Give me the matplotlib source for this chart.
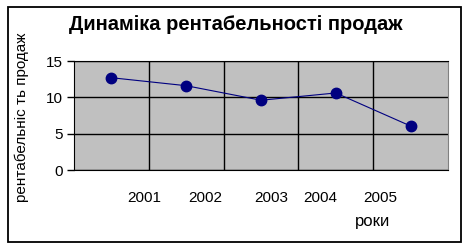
import matplotlib.pyplot as plt
from matplotlib.patches import Rectangle

years = ['2001', '2002', '2003', '2004', '2005']
values = [12.7, 11.6, 9.6, 10.6, 6.05]
# label offsets (data x) as they sit in the original picture
label_x = [0.44, 1.26, 2.14, 2.79, 3.6]

plt.rcParams['font.family'] = ['Liberation Sans', 'DejaVu Sans']

fig = plt.figure(figsize=(4.7, 2.49), dpi=100)
ax = fig.add_axes([74 / 470, 1 - 170 / 249, 374 / 470, 109 / 249])

# outer chart border
fig.patches.append(Rectangle((8 / 470, 1 - 242 / 249), 453 / 470, 235 / 249,
                             transform=fig.transFigure, fill=False,
                             edgecolor='black', linewidth=1.3))

ax.set_facecolor('#c0c0c0')
x = list(range(len(years)))
ax.plot(x, values, color='#000080', linewidth=0.8, marker='o',
        markersize=7.5, markerfacecolor='#000080', markeredgecolor='#000080')

ax.set_xlim(-0.5, len(years) - 0.5)
ax.set_ylim(0, 15)
ax.set_yticks([0, 5, 10, 15])
ax.tick_params(axis='y', length=5, width=1, labelsize=11, pad=3)
ax.set_xticks([i + 0.5 for i in x[:-1]], minor=True)
ax.set_xticks([])
ax.tick_params(axis='x', which='minor', length=0)
ax.grid(axis='y', which='major', color='black', linewidth=1)
ax.grid(axis='x', which='minor', color='black', linewidth=1)

for s in ['left', 'bottom', 'top']:
    ax.spines[s].set_color('black')
ax.spines['right'].set_color('#808080')

for lx, y in zip(label_x, years):
    ax.text(lx, -0.26, y, transform=ax.get_xaxis_transform(),
            ha='center', va='center', fontsize=11)

fig.text(236 / 470, 1 - 25 / 249, 'Динаміка рентабельності продаж',
         ha='center', va='center', fontsize=14.5, fontweight='bold')
fig.text(22 / 470, 1 - 117 / 249, 'рентабельніс ть продаж', rotation=90,
         ha='center', va='center', fontsize=11)
fig.text(373 / 470, 1 - 221 / 249, 'роки', ha='center', va='center',
         fontsize=12)

fig.savefig('out.png', dpi=100)
